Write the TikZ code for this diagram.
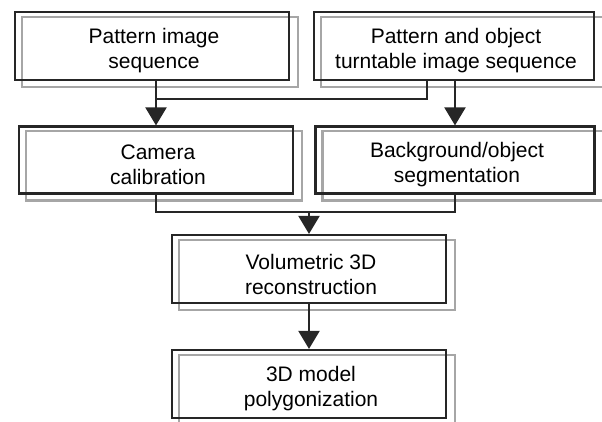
\documentclass[tikz,border=0pt]{standalone}
\usepackage{fontspec}
\setmainfont{Liberation Sans}
\usetikzlibrary{arrows.meta, backgrounds}
\definecolor{linegray}{gray}{0.15}
\definecolor{shadowgray}{gray}{0.65}
\tikzset{
  steptext/.style={align=center, font=\fontsize{21}{25}\selectfont, xshift=2pt, yshift=-5pt},
  stagebox/.style={draw=linegray, line width=2.2pt, minimum width=274pt, minimum height=68pt,
    inner sep=0pt, label={[steptext]center:{#1}}},
  shadowline/.style={draw=shadowgray, line width=2.2pt},
  conn/.style={draw=linegray, line width=2.2pt},
  flow/.style={conn, -{Triangle[width=21pt, length=18pt]}}
}

\begin{document}
\begin{tikzpicture}[x=1pt, y=-1pt]
  \useasboundingbox (0,0) rectangle (602,422);
  % input sequences
  \node[stagebox={Pattern image\\sequence}] (pat) at (152,46) {};
  \node[stagebox={Pattern and object\\turntable image sequence}, minimum width=280pt] (turn) at (454,46) {};
  % calibration and segmentation
  \node[stagebox={Camera\\calibration}, minimum height=67pt] (cam) at (156,160) {};
  \node[stagebox={Background/object\\segmentation}, minimum width=279pt, minimum height=67pt] (seg) at (455,160) {};
  % reconstruction
  \node[stagebox={Volumetric 3D\\reconstruction}] (vol) at (309,269) {};
  \node[stagebox={3D model\\polygonization}] (poly) at (309,384) {};
  % offset outlines behind the boxes
  \begin{scope}[on background layer]
    \foreach \n in {pat, turn, cam, seg, vol, poly}
      \draw[shadowline] ([shift={(8,6)}]\n.south west) rectangle ([shift={(8,6)}]\n.north east);
  \end{scope}
  \coordinate (j1) at (156,99);
  \coordinate (j2) at (309,212);
  \draw[flow] (cam.north |- pat.south) -- (cam.north);
  \draw[conn] ([xshift=-27pt]turn.south) |- (j1);
  \draw[flow] (seg.north |- turn.south) -- (seg.north);
  \draw[conn] (cam.south) |- (j2) -| (seg.south);
  \draw[flow] (j2) -- (vol.north);
  \draw[flow] (vol) -- (poly);
\end{tikzpicture}
\end{document}
